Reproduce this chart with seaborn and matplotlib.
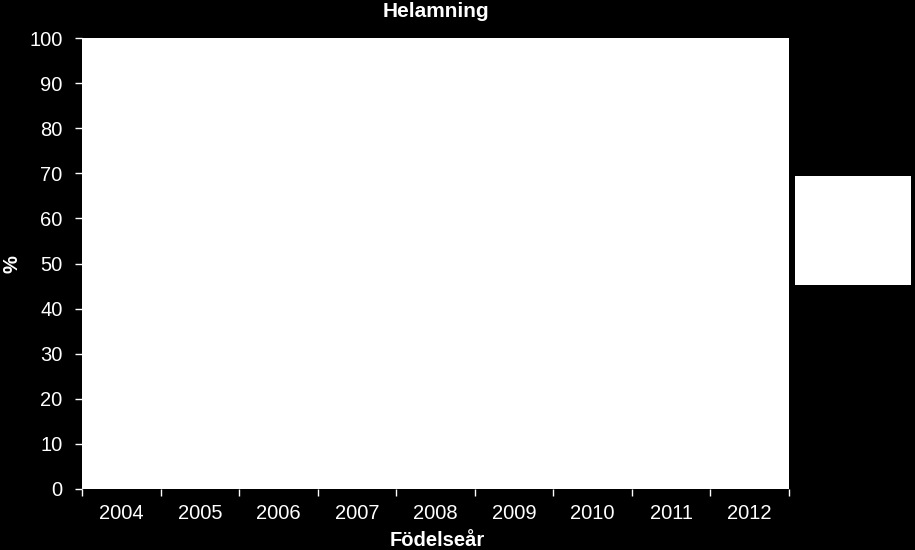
import numpy as np
import matplotlib
matplotlib.use("Agg")
import matplotlib.pyplot as plt
import seaborn as sns
from matplotlib.patches import Rectangle

# chart data (series empty in the source chart)
years = ["2004", "2005", "2006", "2007", "2008", "2009", "2010", "2011", "2012"]
values = [np.nan] * len(years)
yticks = [0, 10, 20, 30, 40, 50, 60, 70, 80, 90, 100]

sns.set_style("white")
plt.rcParams["font.family"] = ["Liberation Sans", "DejaVu Sans"]

fig = plt.figure(figsize=(9.15, 5.5), dpi=100, facecolor="black")
ax = fig.add_axes([82 / 915, 1 - 489 / 550, (789 - 82) / 915, (489 - 38) / 550])
ax.set_facecolor("white")

sns.barplot(x=years, y=values, ax=ax, color="#1f4e79", errorbar=None)

ax.set_xlim(-0.5, len(years) - 0.5)
ax.set_ylim(0, 100)
ax.set_yticks(yticks)
ax.set_yticklabels([str(t) for t in yticks])

# category boundaries as major ticks, labels on minor ticks at centres
ax.set_xticks(np.arange(-0.5, len(years), 1.0))
ax.set_xticklabels([""] * (len(years) + 1))
ax.set_xticks(np.arange(len(years)), minor=True)
ax.set_xticklabels(years, minor=True)

ax.tick_params(axis="x", which="major", direction="out", length=5, width=1,
               color="white", bottom=True)
ax.tick_params(axis="x", which="minor", length=0, labelsize=14.5,
               labelcolor="white", pad=11)
ax.tick_params(axis="y", direction="out", length=5, width=1, color="white",
               left=True, labelsize=14.5, labelcolor="white", pad=9)

for s in ax.spines.values():
    s.set_visible(False)

ax.set_xlabel("")
ax.set_ylabel("")
fig.text(437 / 915, 1 - 546 / 550, "Födelseår", color="white", fontsize=14.5,
         fontweight="bold", ha="center", va="baseline")
fig.text(12 / 915, 1 - 264 / 550, "%", color="white", fontsize=14.5,
         fontweight="bold", rotation=90, ha="center", va="center")
ax.set_title("Helamning", color="white", fontsize=15, fontweight="bold", pad=15)

# empty legend box
fig.patches.append(Rectangle((795 / 915, 1 - 285 / 550), 116 / 915, 109 / 550,
                             transform=fig.transFigure, facecolor="white",
                             edgecolor="none"))

fig.savefig("out.png", dpi=100, facecolor="black")
